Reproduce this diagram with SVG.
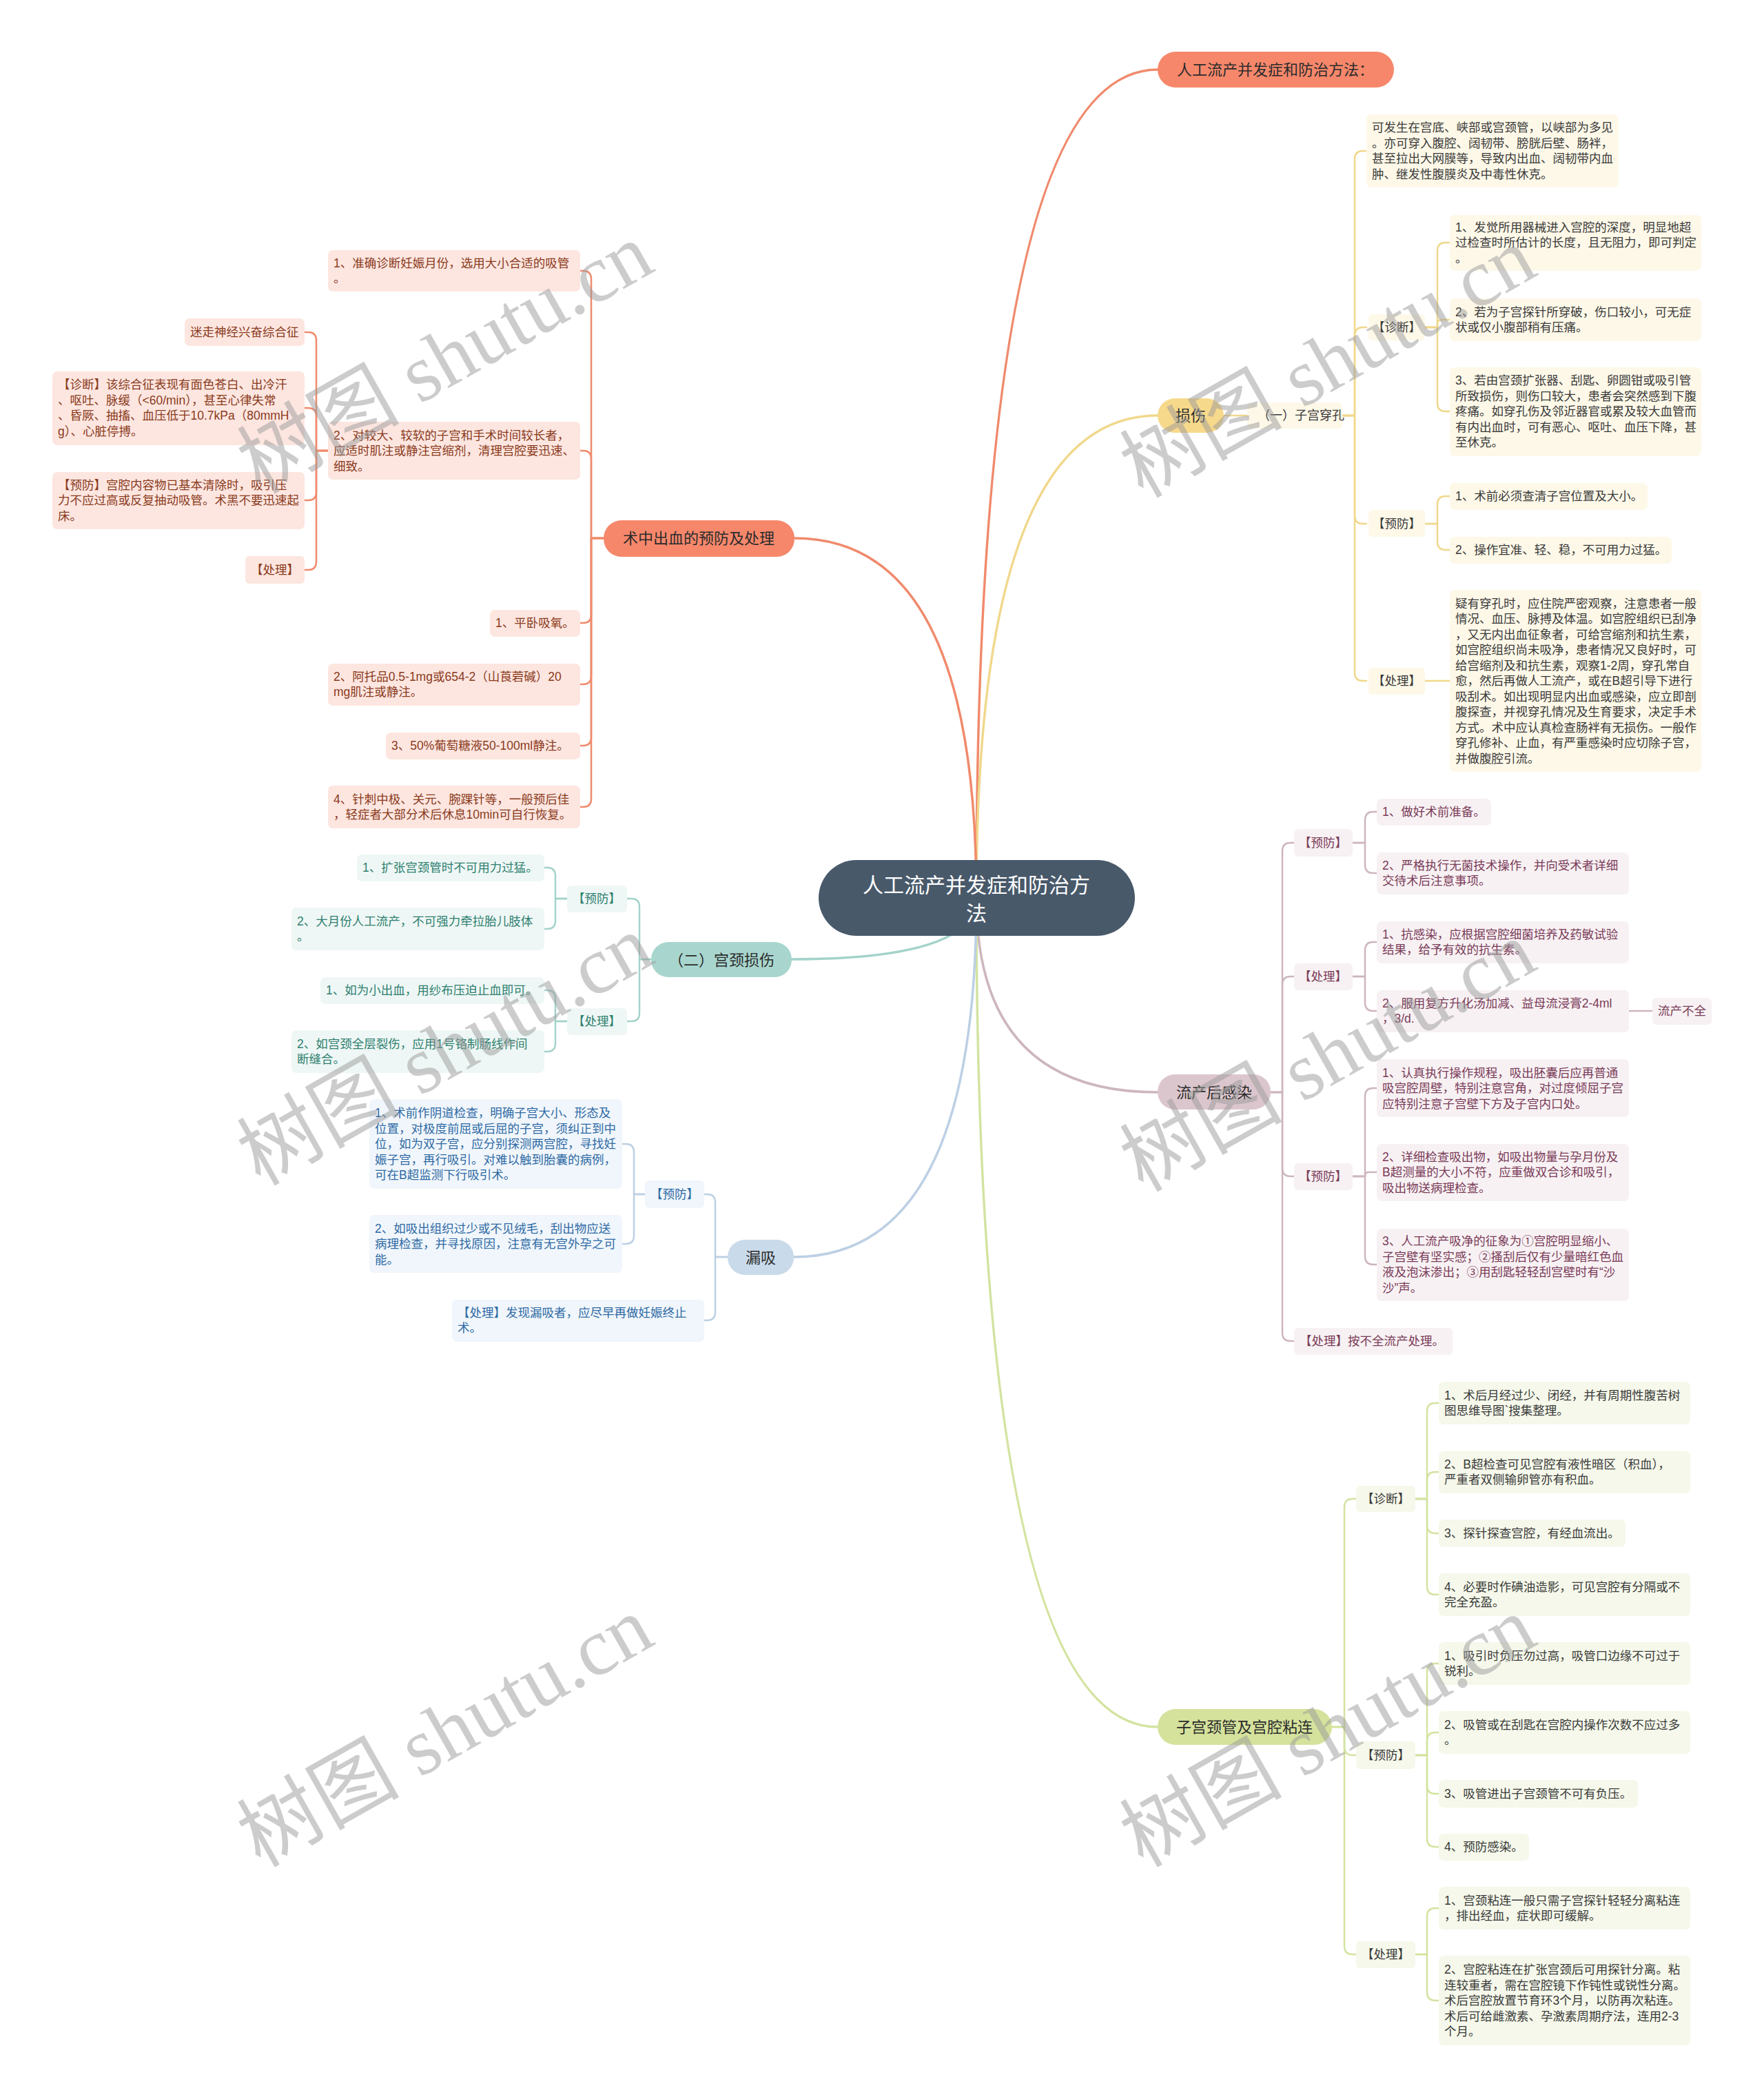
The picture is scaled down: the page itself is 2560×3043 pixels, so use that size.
<svg xmlns="http://www.w3.org/2000/svg" width="2560" height="3043" viewBox="0 0 2560 3043">
<style>
text{font-family:"Liberation Sans","Noto Sans CJK SC",sans-serif}
.t{font-size:17.5px}
.lab{font-size:17.5px;text-anchor:middle}
.n1{font-size:22px;text-anchor:middle;fill:#2b2b2b}
.root{font-size:30px;text-anchor:middle;fill:#ffffff}
.cO{fill:#8a3a1c}.cY{fill:#3a3a3a}.cP{fill:#7a3b58}.cG{fill:#3a3a3a}.cT{fill:#2e7f70}.cB{fill:#2f6aa5}
.bO{fill:#fde6e0}.bY{fill:#fdf8e8}.bP{fill:#f7f1f3}.bG{fill:#f5f8ea}.bT{fill:#eef7f5}.bB{fill:#f0f6fb}
path{fill:none;stroke-linecap:round;stroke-linejoin:round}
.m{stroke-width:3.5}
.s{stroke-width:2.5}
.lO{stroke:#f08a6c}.lY{stroke:#f0d88c}.lP{stroke:#cdb6bd}.lG{stroke:#d3e3a0}.lT{stroke:#a3d3ca}.lB{stroke:#bcd0e4}
.wm{font-family:"Liberation Serif","Noto Sans CJK SC",serif;font-size:118px;fill:#9a9a9a;fill-opacity:.5;text-anchor:middle}
</style>

<g id="connectors">
<path class="m lO" d="M1417 1303 Q1417 101 1680 101"/>
<path class="m lY" d="M1417 1303 Q1417 603 1680 603"/>
<path class="m lP" d="M1417 1303 Q1417 1585 1680 1585"/>
<path class="m lG" d="M1417 1303 Q1417 2506 1680 2506"/>
<path class="m lO" d="M1417 1303 Q1417 781 1153 781"/>
<path class="m lT" d="M1417 1303 Q1417 1392 1149 1392"/>
<path class="m lB" d="M1417 1303 Q1417 1824 1152 1824"/>

<path class="s lY" d="M1776 603 H1810"/>
<path class="s lY" d="M1948 603 H1966 V231 Q1966 219 1978 219 H1983"/>
<path class="s lY" d="M1948 603 H1966 V487 Q1966 475 1978 475 H1983"/>
<path class="s lY" d="M1948 603 H1966 V748 Q1966 760 1978 760 H1983"/>
<path class="s lY" d="M1948 603 H1966 V976 Q1966 988 1978 988 H1983"/>
<path class="s lY" d="M2068 475 H2086 V364 Q2086 352 2098 352 H2104"/>
<path class="s lY" d="M2068 475 H2086 V470 Q2086 464 2092 464 H2104"/>
<path class="s lY" d="M2068 475 H2086 V585 Q2086 597 2098 597 H2104"/>
<path class="s lY" d="M2068 760 H2086 V732 Q2086 720 2098 720 H2104"/>
<path class="s lY" d="M2068 760 H2086 V786 Q2086 798 2098 798 H2104"/>
<path class="s lY" d="M2068 988 H2104"/>

<path class="s lP" d="M1844 1585 H1861 V1235 Q1861 1223 1873 1223 H1878"/>
<path class="s lP" d="M1844 1585 H1861 V1429 Q1861 1417 1873 1417 H1878"/>
<path class="s lP" d="M1844 1585 H1861 V1695 Q1861 1707 1873 1707 H1878"/>
<path class="s lP" d="M1844 1585 H1861 V1934 Q1861 1946 1873 1946 H1878"/>
<path class="s lP" d="M1963 1223 H1981 V1190 Q1981 1178 1993 1178 H1998"/>
<path class="s lP" d="M1963 1223 H1981 V1255 Q1981 1267 1993 1267 H1998"/>
<path class="s lP" d="M1963 1417 H1981 V1379 Q1981 1367 1993 1367 H1998"/>
<path class="s lP" d="M1963 1417 H1981 V1455 Q1981 1467 1993 1467 H1998"/>
<path class="s lP" d="M2364 1467 H2398"/>
<path class="s lP" d="M1963 1707 H1981 V1591 Q1981 1579 1993 1579 H1998"/>
<path class="s lP" d="M1963 1707 H1981 V1706 Q1981 1701 1986 1701 H1998"/>
<path class="s lP" d="M1963 1707 H1981 V1823 Q1981 1835 1993 1835 H1998"/>

<path class="s lG" d="M1933 2506 H1951 V2187 Q1951 2175 1963 2175 H1968"/>
<path class="s lG" d="M1933 2506 H1951 V2535 Q1951 2547 1963 2547 H1968"/>
<path class="s lG" d="M1933 2506 H1951 V2824 Q1951 2836 1963 2836 H1968"/>
<path class="s lG" d="M2054 2175 H2071 V2048 Q2071 2036 2083 2036 H2088"/>
<path class="s lG" d="M2054 2175 H2071 V2148 Q2071 2136 2083 2136 H2088"/>
<path class="s lG" d="M2054 2175 H2071 V2213 Q2071 2225 2083 2225 H2088"/>
<path class="s lG" d="M2054 2175 H2071 V2302 Q2071 2314 2083 2314 H2088"/>
<path class="s lG" d="M2054 2547 H2071 V2426 Q2071 2414 2083 2414 H2088"/>
<path class="s lG" d="M2054 2547 H2071 V2526 Q2071 2514 2083 2514 H2088"/>
<path class="s lG" d="M2054 2547 H2071 V2591 Q2071 2603 2083 2603 H2088"/>
<path class="s lG" d="M2054 2547 H2071 V2668 Q2071 2680 2083 2680 H2088"/>
<path class="s lG" d="M2054 2836 H2071 V2781 Q2071 2769 2083 2769 H2088"/>
<path class="s lG" d="M2054 2836 H2071 V2891 Q2071 2903 2083 2903 H2088"/>

<path class="s lO" d="M876 781 H858 V405 Q858 393 846 393 H842"/>
<path class="s lO" d="M876 781 H858 V666 Q858 654 846 654 H842"/>
<path class="s lO" d="M876 781 H858 V892 Q858 904 846 904 H842"/>
<path class="s lO" d="M876 781 H858 V981 Q858 993 846 993 H842"/>
<path class="s lO" d="M876 781 H858 V1070 Q858 1082 846 1082 H842"/>
<path class="s lO" d="M876 781 H858 V1159 Q858 1171 846 1171 H842"/>
<path class="s lO" d="M476 654 H459 V494 Q459 482 447 482 H442"/>
<path class="s lO" d="M476 654 H459 V604 Q459 592 447 592 H442"/>
<path class="s lO" d="M476 654 H459 V714 Q459 726 447 726 H442"/>
<path class="s lO" d="M476 654 H459 V815 Q459 827 447 827 H442"/>

<path class="s lT" d="M945 1392 H928 V1316 Q928 1304 916 1304 H910"/>
<path class="s lT" d="M945 1392 H928 V1470 Q928 1482 916 1482 H910"/>
<path class="s lT" d="M823 1304 H806 V1271 Q806 1259 794 1259 H790"/>
<path class="s lT" d="M823 1304 H806 V1336 Q806 1348 794 1348 H790"/>
<path class="s lT" d="M823 1482 H806 V1449 Q806 1437 794 1437 H790"/>
<path class="s lT" d="M823 1482 H806 V1514 Q806 1526 794 1526 H790"/>

<path class="s lB" d="M1056 1824 H1038 V1745 Q1038 1733 1026 1733 H1022"/>
<path class="s lB" d="M1056 1824 H1038 V1904 Q1038 1916 1026 1916 H1022"/>
<path class="s lB" d="M936 1733 H920 V1672 Q920 1660 908 1660 H903"/>
<path class="s lB" d="M936 1733 H920 V1793 Q920 1805 908 1805 H903"/>
</g>

<g id="root">
<rect x="1188" y="1248" width="459" height="110" rx="55" fill="#48596a"/>
<text class="root" x="1417" y="1295">人工流产并发症和防治方</text>
<text class="root" x="1417" y="1336">法</text>
</g>

<g id="n-title">
<rect x="1680" y="75" width="343" height="52" rx="26" fill="#f6876b"/>
<text class="n1" x="1851" y="109">人工流产并发症和防治方法：</text>
</g>

<g id="n-sunshang">
<rect x="1680" y="578" width="96" height="50" rx="25" fill="#f7d98c"/>
<text class="n1" x="1728" y="611">损伤</text>
</g>
<g id="n-chuankong">
<rect x="1810" y="584" width="138" height="38" rx="6" class="bY"/>
<text class="t cY" x="1825" y="609" style="font-size:18px">（一）子宫穿孔</text>
</g>
<g id="n-ss-desc">
<rect x="1983" y="166" width="366" height="106" rx="7" class="bY"/>
<text class="t cY" x="1991" y="191">可发生在宫底、峡部或宫颈管，以峡部为多见</text>
<text class="t cY" x="1991" y="214">。亦可穿入腹腔、阔韧带、膀胱后壁、肠袢，</text>
<text class="t cY" x="1991" y="236">甚至拉出大网膜等，导致内出血、阔韧带内血</text>
<text class="t cY" x="1991" y="259">肿、继发性腹膜炎及中毒性休克。</text>
</g>
<g id="n-ss-zd">
<rect x="1986" y="456" width="82" height="38" rx="6" class="bY"/>
<text class="lab cY" x="2027" y="481">【诊断】</text>
</g>
<g id="n-ss-zd1">
<rect x="2104" y="312" width="365" height="81" rx="7" class="bY"/>
<text class="t cY" x="2112" y="336">1、发觉所用器械进入宫腔的深度，明显地超</text>
<text class="t cY" x="2112" y="358">过检查时所估计的长度，且无阻力，即可判定</text>
<text class="t cY" x="2112" y="381">。</text>
</g>
<g id="n-ss-zd2">
<rect x="2104" y="433" width="365" height="62" rx="7" class="bY"/>
<text class="t cY" x="2112" y="459">2、若为子宫探针所穿破，伤口较小，可无症</text>
<text class="t cY" x="2112" y="481">状或仅小腹部稍有压痛。</text>
</g>
<g id="n-ss-zd3">
<rect x="2104" y="533" width="365" height="129" rx="7" class="bY"/>
<text class="t cY" x="2112" y="558">3、若由宫颈扩张器、刮匙、卵圆钳或吸引管</text>
<text class="t cY" x="2112" y="581">所致损伤，则伤口较大，患者会突然感到下腹</text>
<text class="t cY" x="2112" y="603">疼痛。如穿孔伤及邻近器官或累及较大血管而</text>
<text class="t cY" x="2112" y="626">有内出血时，可有恶心、呕吐、血压下降，甚</text>
<text class="t cY" x="2112" y="648">至休克。</text>
</g>
<g id="n-ss-yf">
<rect x="1986" y="740" width="82" height="39" rx="6" class="bY"/>
<text class="lab cY" x="2027" y="766">【预防】</text>
</g>
<g id="n-ss-yf1">
<rect x="2104" y="701" width="287" height="39" rx="7" class="bY"/>
<text class="t cY" x="2112" y="726">1、术前必须查清子宫位置及大小。</text>
</g>
<g id="n-ss-yf2">
<rect x="2104" y="779" width="322" height="39" rx="7" class="bY"/>
<text class="t cY" x="2112" y="804">2、操作宜准、轻、稳，不可用力过猛。</text>
</g>
<g id="n-ss-cl">
<rect x="1986" y="969" width="82" height="39" rx="6" class="bY"/>
<text class="lab cY" x="2027" y="994">【处理】</text>
</g>
<g id="n-ss-cl1">
<rect x="2104" y="856" width="365" height="264" rx="7" class="bY"/>
<text class="t cY" x="2112" y="882">疑有穿孔时，应住院严密观察，注意患者一般</text>
<text class="t cY" x="2112" y="904">情况、血压、脉搏及体温。如宫腔组织已刮净</text>
<text class="t cY" x="2112" y="927">，又无内出血征象者，可给宫缩剂和抗生素，</text>
<text class="t cY" x="2112" y="949">如宫腔组织尚未吸净，患者情况又良好时，可</text>
<text class="t cY" x="2112" y="972">给宫缩剂及和抗生素，观察1-2周，穿孔常自</text>
<text class="t cY" x="2112" y="994">愈，然后再做人工流产，或在B超引导下进行</text>
<text class="t cY" x="2112" y="1017">吸刮术。如出现明显内出血或感染，应立即剖</text>
<text class="t cY" x="2112" y="1039">腹探查，并视穿孔情况及生育要求，决定手术</text>
<text class="t cY" x="2112" y="1062">方式。术中应认真检查肠袢有无损伤。一般作</text>
<text class="t cY" x="2112" y="1084">穿孔修补、止血，有严重感染时应切除子宫，</text>
<text class="t cY" x="2112" y="1107">并做腹腔引流。</text>
</g>

<g id="n-ganran">
<rect x="1680" y="1559" width="164" height="51" rx="25" fill="#dcc6cd"/>
<text class="n1" x="1762" y="1593">流产后感染</text>
</g>
<g id="n-gr-yf">
<rect x="1878" y="1203" width="85" height="40" rx="6" class="bP"/>
<text class="lab cP" x="1920" y="1229">【预防】</text>
</g>
<g id="n-gr-yf1">
<rect x="1998" y="1159" width="166" height="39" rx="7" class="bP"/>
<text class="t cP" x="2006" y="1184">1、做好术前准备。</text>
</g>
<g id="n-gr-yf2">
<rect x="1998" y="1237" width="366" height="61" rx="7" class="bP"/>
<text class="t cP" x="2006" y="1262">2、严格执行无菌技术操作，并向受术者详细</text>
<text class="t cP" x="2006" y="1284">交待术后注意事项。</text>
</g>
<g id="n-gr-cl">
<rect x="1878" y="1398" width="85" height="39" rx="6" class="bP"/>
<text class="lab cP" x="1920" y="1423">【处理】</text>
</g>
<g id="n-gr-cl1">
<rect x="1998" y="1337" width="366" height="61" rx="7" class="bP"/>
<text class="t cP" x="2006" y="1362">1、抗感染，应根据宫腔细菌培养及药敏试验</text>
<text class="t cP" x="2006" y="1384">结果，给予有效的抗生素。</text>
</g>
<g id="n-gr-cl2">
<rect x="1998" y="1437" width="366" height="61" rx="7" class="bP"/>
<text class="t cP" x="2006" y="1462">2、服用复方升化汤加减、益母流浸膏2-4ml</text>
<text class="t cP" x="2006" y="1484">，3/d.</text>
</g>
<g id="n-gr-bq">
<rect x="2398" y="1448" width="86" height="39" rx="6" class="bP"/>
<text class="lab cP" x="2441" y="1473">流产不全</text>
</g>
<g id="n-gr-yf3">
<rect x="1878" y="1688" width="85" height="39" rx="6" class="bP"/>
<text class="lab cP" x="1920" y="1713">【预防】</text>
</g>
<g id="n-gr-yf31">
<rect x="1998" y="1537" width="366" height="84" rx="7" class="bP"/>
<text class="t cP" x="2006" y="1563">1、认真执行操作规程，吸出胚囊后应再普通</text>
<text class="t cP" x="2006" y="1585">吸宫腔周壁，特别注意宫角，对过度倾屈子宫</text>
<text class="t cP" x="2006" y="1608">应特别注意子宫壁下方及子宫内口处。</text>
</g>
<g id="n-gr-yf32">
<rect x="1998" y="1660" width="366" height="83" rx="7" class="bP"/>
<text class="t cP" x="2006" y="1685">2、详细检查吸出物，如吸出物量与孕月份及</text>
<text class="t cP" x="2006" y="1707">B超测量的大小不符，应重做双合诊和吸引，</text>
<text class="t cP" x="2006" y="1730">吸出物送病理检查。</text>
</g>
<g id="n-gr-yf33">
<rect x="1998" y="1783" width="366" height="105" rx="7" class="bP"/>
<text class="t cP" x="2006" y="1807">3、人工流产吸净的征象为①宫腔明显缩小、</text>
<text class="t cP" x="2006" y="1830">子宫壁有坚实感；②搔刮后仅有少量暗红色血</text>
<text class="t cP" x="2006" y="1852">液及泡沫渗出；③用刮匙轻轻刮宫壁时有“沙</text>
<text class="t cP" x="2006" y="1875">沙”声。</text>
</g>
<g id="n-gr-cl3">
<rect x="1878" y="1927" width="230" height="39" rx="6" class="bP"/>
<text class="t cP" x="1886" y="1952">【处理】按不全流产处理。</text>
</g>

<g id="n-zhanlian">
<rect x="1680" y="2480" width="253" height="52" rx="26" fill="#d5e29c"/>
<text class="n1" x="1806" y="2514">子宫颈管及宫腔粘连</text>
</g>
<g id="n-zl-zd">
<rect x="1968" y="2156" width="86" height="38" rx="6" class="bG"/>
<text class="lab cG" x="2011" y="2181">【诊断】</text>
</g>
<g id="n-zl-zd1">
<rect x="2088" y="2005" width="365" height="62" rx="7" class="bG"/>
<text class="t cG" x="2096" y="2031">1、术后月经过少、闭经，并有周期性腹苦树</text>
<text class="t cG" x="2096" y="2053">图思维导图`搜集整理。</text>
</g>
<g id="n-zl-zd2">
<rect x="2088" y="2106" width="365" height="61" rx="7" class="bG"/>
<text class="t cG" x="2096" y="2131">2、B超检查可见宫腔有液性暗区（积血），</text>
<text class="t cG" x="2096" y="2153">严重者双侧输卵管亦有积血。</text>
</g>
<g id="n-zl-zd3">
<rect x="2088" y="2205" width="271" height="40" rx="7" class="bG"/>
<text class="t cG" x="2096" y="2231">3、探针探查宫腔，有经血流出。</text>
</g>
<g id="n-zl-zd4">
<rect x="2088" y="2283" width="365" height="62" rx="7" class="bG"/>
<text class="t cG" x="2096" y="2309">4、必要时作碘油造影，可见宫腔有分隔或不</text>
<text class="t cG" x="2096" y="2331">完全充盈。</text>
</g>
<g id="n-zl-yf">
<rect x="1968" y="2527" width="86" height="40" rx="6" class="bG"/>
<text class="lab cG" x="2011" y="2553">【预防】</text>
</g>
<g id="n-zl-yf1">
<rect x="2088" y="2383" width="365" height="62" rx="7" class="bG"/>
<text class="t cG" x="2096" y="2409">1、吸引时负压勿过高，吸管口边缘不可过于</text>
<text class="t cG" x="2096" y="2431">锐利。</text>
</g>
<g id="n-zl-yf2">
<rect x="2088" y="2483" width="365" height="62" rx="7" class="bG"/>
<text class="t cG" x="2096" y="2509">2、吸管或在刮匙在宫腔内操作次数不应过多</text>
<text class="t cG" x="2096" y="2531">。</text>
</g>
<g id="n-zl-yf3">
<rect x="2088" y="2583" width="289" height="40" rx="7" class="bG"/>
<text class="t cG" x="2096" y="2609">3、吸管进出子宫颈管不可有负压。</text>
</g>
<g id="n-zl-yf4">
<rect x="2088" y="2661" width="131" height="39" rx="7" class="bG"/>
<text class="t cG" x="2096" y="2686">4、预防感染。</text>
</g>
<g id="n-zl-cl">
<rect x="1968" y="2817" width="86" height="39" rx="6" class="bG"/>
<text class="lab cG" x="2011" y="2842">【处理】</text>
</g>
<g id="n-zl-cl1">
<rect x="2088" y="2738" width="365" height="62" rx="7" class="bG"/>
<text class="t cG" x="2096" y="2764">1、宫颈粘连一般只需子宫探针轻轻分离粘连</text>
<text class="t cG" x="2096" y="2786">，排出经血，症状即可缓解。</text>
</g>
<g id="n-zl-cl2">
<rect x="2088" y="2838" width="365" height="130" rx="7" class="bG"/>
<text class="t cG" x="2096" y="2864">2、宫腔粘连在扩张宫颈后可用探针分离。粘</text>
<text class="t cG" x="2096" y="2887">连较重者，需在宫腔镜下作钝性或锐性分离。</text>
<text class="t cG" x="2096" y="2909">术后宫腔放置节育环3个月，以防再次粘连。</text>
<text class="t cG" x="2096" y="2932">术后可给雌激素、孕激素周期疗法，连用2-3</text>
<text class="t cG" x="2096" y="2954">个月。</text>
</g>

<g id="n-chuxue">
<rect x="876" y="755" width="277" height="53" rx="26" fill="#f6876b"/>
<text class="n1" x="1014" y="789">术中出血的预防及处理</text>
</g>
<g id="n-cx-1">
<rect x="476" y="363" width="366" height="60" rx="7" class="bO"/>
<text class="t cO" x="484" y="388">1、准确诊断妊娠月份，选用大小合适的吸管</text>
<text class="t cO" x="484" y="410">。</text>
</g>
<g id="n-cx-2">
<rect x="476" y="612" width="366" height="84" rx="7" class="bO"/>
<text class="t cO" x="484" y="638">2、对较大、较软的子宫和手术时间较长者，</text>
<text class="t cO" x="484" y="660">应适时肌注或静注宫缩剂，清理宫腔要迅速、</text>
<text class="t cO" x="484" y="683">细致。</text>
</g>
<g id="n-cx-mz">
<rect x="268" y="462" width="174" height="40" rx="7" class="bO"/>
<text class="t cO" x="276" y="488">迷走神经兴奋综合征</text>
</g>
<g id="n-cx-zd">
<rect x="76" y="539" width="366" height="107" rx="7" class="bO"/>
<text class="t cO" x="84" y="564">【诊断】该综合征表现有面色苍白、出冷汗</text>
<text class="t cO" x="84" y="587">、呕吐、脉缓（&lt;60/min），甚至心律失常</text>
<text class="t cO" x="84" y="609">、昏厥、抽搐、血压低于10.7kPa（80mmH</text>
<text class="t cO" x="84" y="632">g）、心脏停搏。</text>
</g>
<g id="n-cx-yf">
<rect x="76" y="685" width="366" height="83" rx="7" class="bO"/>
<text class="t cO" x="84" y="710">【预防】宫腔内容物已基本清除时，吸引压</text>
<text class="t cO" x="84" y="732">力不应过高或反复抽动吸管。术黑不要迅速起</text>
<text class="t cO" x="84" y="755">床。</text>
</g>
<g id="n-cx-cl">
<rect x="356" y="807" width="86" height="40" rx="6" class="bO"/>
<text class="lab cO" x="399" y="833">【处理】</text>
</g>
<g id="n-cx-3">
<rect x="711" y="885" width="131" height="39" rx="7" class="bO"/>
<text class="t cO" x="719" y="910">1、平卧吸氧。</text>
</g>
<g id="n-cx-4">
<rect x="476" y="963" width="366" height="61" rx="7" class="bO"/>
<text class="t cO" x="484" y="988">2、阿托品0.5-1mg或654-2（山莨菪碱）20</text>
<text class="t cO" x="484" y="1010">mg肌注或静注。</text>
</g>
<g id="n-cx-5">
<rect x="560" y="1063" width="282" height="39" rx="7" class="bO"/>
<text class="t cO" x="568" y="1088">3、50%葡萄糖液50-100ml静注。</text>
</g>
<g id="n-cx-6">
<rect x="476" y="1140" width="366" height="62" rx="7" class="bO"/>
<text class="t cO" x="484" y="1166">4、针刺中极、关元、腕踝针等，一般预后佳</text>
<text class="t cO" x="484" y="1188">，轻症者大部分术后休息10min可自行恢复。</text>
</g>

<g id="n-gongjing">
<rect x="945" y="1367" width="204" height="51" rx="25" fill="#a8d6ce"/>
<text class="n1" x="1047" y="1401">（二）宫颈损伤</text>
</g>
<g id="n-gj-yf">
<rect x="823" y="1285" width="87" height="39" rx="6" class="bT"/>
<text class="lab cT" x="866" y="1310">【预防】</text>
</g>
<g id="n-gj-yf1">
<rect x="518" y="1240" width="272" height="39" rx="7" class="bT"/>
<text class="t cT" x="526" y="1265">1、扩张宫颈管时不可用力过猛。</text>
</g>
<g id="n-gj-yf2">
<rect x="423" y="1317" width="367" height="62" rx="7" class="bT"/>
<text class="t cT" x="431" y="1343">2、大月份人工流产，不可强力牵拉胎儿肢体</text>
<text class="t cT" x="431" y="1365">。</text>
</g>
<g id="n-gj-cl">
<rect x="823" y="1463" width="87" height="39" rx="6" class="bT"/>
<text class="lab cT" x="866" y="1488">【处理】</text>
</g>
<g id="n-gj-cl1">
<rect x="465" y="1418" width="325" height="39" rx="7" class="bT"/>
<text class="t cT" x="473" y="1443">1、如为小出血，用纱布压迫止血即可。</text>
</g>
<g id="n-gj-cl2">
<rect x="423" y="1495" width="367" height="62" rx="7" class="bT"/>
<text class="t cT" x="431" y="1521">2、如宫颈全层裂伤，应用1号铬制肠线作间</text>
<text class="t cT" x="431" y="1543">断缝合。</text>
</g>

<g id="n-louxi">
<rect x="1056" y="1799" width="96" height="51" rx="25" fill="#c9daea"/>
<text class="n1" x="1104" y="1833">漏吸</text>
</g>
<g id="n-lx-yf">
<rect x="936" y="1713" width="86" height="40" rx="6" class="bB"/>
<text class="lab cB" x="979" y="1739">【预防】</text>
</g>
<g id="n-lx-yf1">
<rect x="536" y="1595" width="367" height="130" rx="7" class="bB"/>
<text class="t cB" x="544" y="1621">1、术前作阴道检查，明确子宫大小、形态及</text>
<text class="t cB" x="544" y="1644">位置，对极度前屈或后屈的子宫，须纠正到中</text>
<text class="t cB" x="544" y="1666">位，如为双子宫，应分别探测两宫腔，寻找妊</text>
<text class="t cB" x="544" y="1689">娠子宫，再行吸引。对难以触到胎囊的病例，</text>
<text class="t cB" x="544" y="1711">可在B超监测下行吸引术。</text>
</g>
<g id="n-lx-yf2">
<rect x="536" y="1763" width="367" height="84" rx="7" class="bB"/>
<text class="t cB" x="544" y="1789">2、如吸出组织过少或不见绒毛，刮出物应送</text>
<text class="t cB" x="544" y="1811">病理检查，并寻找原因，注意有无宫外孕之可</text>
<text class="t cB" x="544" y="1834">能。</text>
</g>
<g id="n-lx-cl">
<rect x="656" y="1886" width="366" height="61" rx="7" class="bB"/>
<text class="t cB" x="664" y="1911">【处理】发现漏吸者，应尽早再做妊娠终止</text>
<text class="t cB" x="664" y="1933">术。</text>
</g>

<g id="watermarks">
<text class="wm" transform="translate(646 520) rotate(-29.5)" x="0" y="40">树图 shutu.cn</text>
<text class="wm" transform="translate(1927 526) rotate(-29.5)" x="0" y="40">树图 shutu.cn</text>
<text class="wm" transform="translate(646 1524) rotate(-29.5)" x="0" y="40">树图 shutu.cn</text>
<text class="wm" transform="translate(1927 1533) rotate(-29.5)" x="0" y="40">树图 shutu.cn</text>
<text class="wm" transform="translate(646 2513) rotate(-29.5)" x="0" y="40">树图 shutu.cn</text>
<text class="wm" transform="translate(1927 2513) rotate(-29.5)" x="0" y="40">树图 shutu.cn</text>
</g>
</svg>
